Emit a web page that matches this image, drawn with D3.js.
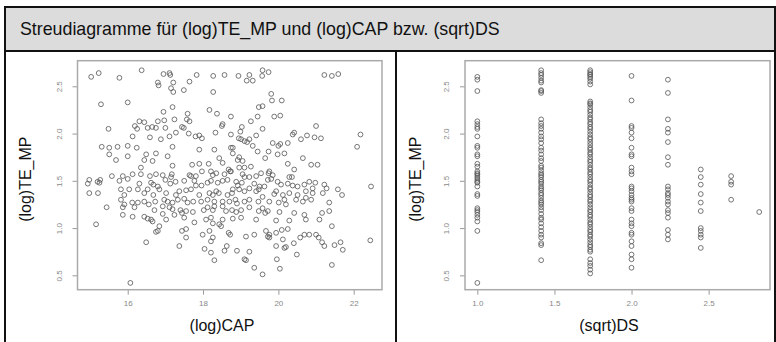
<!DOCTYPE html>
<html>
<head>
<meta charset="utf-8">
<script src="https://cdn.jsdelivr.net/npm/d3@7"></script>
<style>
  body { margin: 0; background: #fff; }
  text { font-family: "Liberation Sans", Arial, sans-serif; }
</style>
</head>
<body>
<div id="chart"></div>
<script>
// (log)CAP vs (log)TE_MP
var capPoints = [
  [15.03,2.60],[15.23,2.64],[15.78,2.59],[16.37,2.67],[16.95,2.63],[17.11,2.64],[17.13,2.62],[16.80,2.54],
  [16.82,2.51],[17.21,2.54],[17.15,2.48],[17.21,2.44],[17.49,2.46],[17.64,2.55],[17.83,2.62],[18.27,2.61],
  [18.27,2.44],[18.57,2.62],[18.94,2.61],[19.16,2.56],[19.23,2.62],[19.32,2.56],[19.57,2.61],[19.58,2.67],
  [19.74,2.65],[21.22,2.62],[21.42,2.61],[21.59,2.63],[19.81,2.42],
  [15.29,2.31],[16.00,2.33],[19.83,2.35],[20.09,2.35],[19.58,2.29],[19.48,2.28],[17.19,2.28],[16.95,2.23],
  [18.17,2.25],[17.59,2.21],[18.37,2.21],[18.74,2.18],[19.89,2.18],[20.05,2.19],[19.45,2.18],[19.27,2.13],
  [17.57,2.15],[17.64,2.13],[17.24,2.15],[16.97,2.14],[16.31,2.13],[16.44,2.12],[16.80,2.13],[16.65,2.07],
  [16.19,2.08],[16.25,2.05],[15.49,2.05],[16.53,2.06],[16.75,2.06],[17.00,2.06],[17.44,2.07],[17.49,2.06],
  [18.50,2.08],[18.52,2.10],[19.03,2.07],[19.58,2.05],[21.00,2.08],[20.42,2.01],[20.38,1.99],
  [16.13,1.97],[16.59,1.96],[16.88,1.94],[17.11,1.97],[17.28,2.01],[17.62,2.00],[17.80,1.97],[17.90,1.98],
  [17.97,1.95],[18.33,2.01],[18.74,1.99],[18.99,2.02],[19.01,1.94],[19.10,1.92],[19.17,1.91],[19.23,1.94],
  [19.41,1.98],[18.95,1.95],[19.85,1.90],[20.00,1.87],[20.05,1.89],[20.25,1.90],[20.76,1.98],[20.96,1.96],
  [21.13,1.95],[20.60,1.94],[22.18,1.99],[22.09,1.86],[15.31,1.86],[15.51,1.85],[15.73,1.86],[16.00,1.87],
  [16.24,1.85],[17.19,1.86],[17.90,1.83],[18.30,1.83],[18.74,1.85],[18.79,1.85],[19.32,1.87],[19.45,1.81],
  [19.74,1.81],[18.79,1.79],
  [15.51,1.78],[16.00,1.76],[15.69,1.72],[16.49,1.78],[16.75,1.79],[17.06,1.76],[16.44,1.72],[16.66,1.71],
  [16.35,1.64],[17.19,1.66],[17.71,1.67],[17.90,1.68],[18.15,1.68],[18.43,1.74],[18.52,1.69],[18.96,1.75],
  [18.92,1.72],[19.05,1.71],[18.96,1.64],[18.68,1.62],[18.72,1.60],[19.10,1.64],[19.27,1.65],[19.65,1.74],
  [19.98,1.78],[20.16,1.79],[19.76,1.60],[19.74,1.58],[19.85,1.56],[20.25,1.68],[20.42,1.62],[20.65,1.74],
  [20.87,1.67],[21.04,1.67],[16.35,1.57],[16.59,1.55],[16.93,1.56],[17.17,1.57],[17.15,1.54],[16.75,1.57],
  [16.13,1.57],[15.87,1.55],[15.58,1.55],[15.20,1.49],[14.98,1.51],[17.97,1.60],[17.81,1.55],[17.64,1.56],
  [18.21,1.60],[18.26,1.56],[18.35,1.58],[18.57,1.57],[18.74,1.60],[19.05,1.57],[19.23,1.54],[19.41,1.55],
  [19.54,1.58],[19.81,1.52],[20.29,1.54],[20.36,1.54],
  [14.94,1.47],[15.25,1.48],[15.27,1.51],[15.78,1.50],[16.00,1.52],[16.27,1.41],[16.31,1.47],[16.62,1.48],
  [16.68,1.46],[16.80,1.44],[17.00,1.51],[17.13,1.47],[17.27,1.49],[17.50,1.50],[17.68,1.55],[17.77,1.50],
  [17.96,1.45],[17.81,1.45],[18.12,1.48],[18.21,1.50],[18.39,1.48],[18.52,1.50],[18.65,1.51],[18.88,1.49],
  [19.10,1.54],[19.03,1.48],[18.92,1.45],[18.79,1.41],[18.96,1.41],[19.23,1.42],[19.36,1.47],[19.50,1.44],
  [19.72,1.51],[19.63,1.44],[19.98,1.49],[20.07,1.46],[20.25,1.47],[20.38,1.45],[20.51,1.44],[20.69,1.46],
  [20.82,1.49],[20.91,1.42],[20.98,1.48],[21.22,1.46],[21.28,1.42],[21.58,1.41],[21.69,1.35],[22.46,1.44],
  [15.21,1.37],[14.98,1.37],[15.82,1.41],[15.91,1.35],[16.04,1.41],[16.53,1.41],[16.44,1.37],[16.68,1.35],
  [16.84,1.41],[17.02,1.37],[17.28,1.35],[17.37,1.39],[17.55,1.40],[17.68,1.41],[17.90,1.35],[18.17,1.37],
  [18.26,1.35],[18.35,1.39],[18.42,1.37],[18.65,1.35],[18.77,1.37],[19.10,1.39],[19.41,1.39],[19.48,1.41],
  [19.89,1.36],[19.94,1.39],[20.12,1.35],[20.29,1.37],[20.51,1.35],[20.73,1.39],[20.91,1.37],[21.18,1.37],
  [15.82,1.30],[15.91,1.25],[16.12,1.27],[16.27,1.27],[16.44,1.28],[16.73,1.28],[16.97,1.30],[17.06,1.28],
  [17.19,1.27],[17.33,1.30],[17.50,1.31],[17.59,1.27],[17.74,1.28],[17.95,1.28],[18.12,1.30],[18.30,1.28],
  [18.52,1.28],[18.70,1.28],[18.86,1.30],[18.90,1.26],[19.10,1.28],[19.23,1.30],[19.47,1.28],[19.58,1.33],
  [19.76,1.28],[20.01,1.27],[20.16,1.30],[20.20,1.25],[20.47,1.30],[20.65,1.28],[20.73,1.32],[20.87,1.30],
  [21.35,1.27],[15.44,1.22],
  [15.87,1.22],[16.18,1.22],[16.56,1.25],[16.71,1.19],[16.93,1.23],[17.11,1.22],[17.19,1.20],[17.40,1.19],
  [17.44,1.16],[17.55,1.18],[17.73,1.17],[18.02,1.19],[18.12,1.22],[18.26,1.19],[18.30,1.23],[18.52,1.23],
  [18.61,1.18],[18.77,1.19],[18.88,1.17],[19.01,1.19],[19.23,1.22],[19.48,1.18],[19.58,1.21],[19.65,1.16],
  [19.72,1.18],[20.03,1.17],[20.42,1.16],[20.69,1.14],[21.16,1.16],[21.35,1.18],[15.87,1.14],[16.13,1.12],
  [16.44,1.12],[16.53,1.10],[16.62,1.09],[16.66,1.07],[16.93,1.15],[17.02,1.09],[17.24,1.14],[17.50,1.11],
  [17.77,1.06],[18.08,1.09],[18.21,1.11],[18.26,1.05],[18.43,1.04],[18.52,1.09],[18.79,1.10],[19.01,1.11],
  [19.41,1.09],[19.94,1.08],[20.29,1.08],[20.73,1.09],[21.09,1.09],[15.16,1.04],[16.84,1.02],[16.80,0.97],
  [16.75,0.96],[17.44,0.97],[17.55,0.99],[18.17,0.97],[18.48,1.02],[18.68,0.95],[18.72,0.93],[19.14,0.91],
  [19.36,0.93],[19.67,0.97],[19.76,0.93],[19.94,0.95],[20.09,0.98],[20.25,0.99],[20.69,0.93],[21.00,0.93],
  [21.42,1.02],
  [16.49,0.85],[17.37,0.81],[17.55,0.90],[17.99,0.93],[18.21,0.86],[18.26,0.90],[19.72,0.91],[19.76,0.90],
  [20.12,0.88],[20.20,0.80],[20.41,0.84],[20.58,0.90],[20.82,0.93],[21.07,0.90],[21.16,0.85],[21.22,0.81],
  [21.49,0.82],[21.65,0.85],[21.71,0.77],[22.44,0.87],[18.04,0.78],[18.21,0.74],[18.57,0.76],[18.63,0.81],
  [18.90,0.76],[19.23,0.75],[19.94,0.81],[20.16,0.79],[20.49,0.72],[18.30,0.66],[19.10,0.67],[19.14,0.66],
  [19.36,0.58],[19.96,0.67],[20.04,0.57],[19.58,0.51],[21.42,0.61],[16.07,0.42]
];

// (sqrt)DS levels and the (log)TE_MP values seen in each column
var dsLevels = [1.000, 1.414, 1.732, 2.000, 2.236, 2.449, 2.646, 2.828];
var teByDs = [
  [2.60,2.57,2.45,2.13,2.10,2.07,2.05,1.97,1.87,1.85,1.78,1.76,1.68,1.65,1.60,1.58,1.57,1.55,1.53,1.51,
   1.49,1.48,1.44,1.36,1.34,1.21,1.19,1.17,1.14,1.11,1.07,0.97,0.42],
  [2.67,2.64,2.62,2.59,2.56,2.54,2.46,2.45,2.43,2.15,2.11,2.08,2.05,2.01,1.97,1.94,1.90,1.85,1.82,1.78,
   1.74,1.71,1.66,1.64,1.61,1.58,1.56,1.54,1.51,1.49,1.47,1.44,1.42,1.40,1.37,1.35,1.32,1.29,1.27,1.25,
   1.22,1.19,1.15,1.11,1.09,1.05,1.01,0.97,0.93,0.90,0.84,0.82,0.66],
  [2.67,2.65,2.63,2.62,2.60,2.58,2.55,2.52,2.34,2.32,2.31,2.28,2.25,2.23,2.20,2.17,2.15,2.12,2.10,2.07,
   2.05,2.02,1.99,1.96,1.94,1.91,1.88,1.85,1.83,1.80,1.78,1.75,1.72,1.70,1.67,1.64,1.62,1.59,1.57,1.54,
   1.51,1.49,1.46,1.43,1.41,1.38,1.35,1.33,1.30,1.28,1.25,1.22,1.19,1.17,1.14,1.12,1.09,1.06,1.04,1.01,
   0.98,0.96,0.93,0.91,0.88,0.85,0.82,0.80,0.77,0.75,0.67,0.63,0.60,0.56,0.52],
  [2.61,2.35,2.08,2.06,2.01,1.95,1.85,1.78,1.76,1.64,1.60,1.57,1.44,1.42,1.39,1.35,1.32,1.30,1.28,1.21,
   1.18,1.09,1.05,1.02,0.95,0.93,0.86,0.81,0.72,0.67,0.58],
  [2.57,2.43,2.15,2.05,2.01,1.91,1.75,1.67,1.44,1.41,1.37,1.35,1.32,1.28,1.25,1.19,1.16,1.11,0.98,0.93,0.88],
  [1.62,1.54,1.46,1.36,1.27,1.18,1.00,0.97,0.93,0.90,0.79],
  [1.55,1.49,1.46,1.30],
  [1.17]
];

var yTicks = [0.5, 1.0, 1.5, 2.0, 2.5];
var capTicks = [16, 18, 20, 22];
var dsTicks = [1.0, 1.5, 2.0, 2.5];

var width = 776, height = 342;
var svg = d3.select("#chart").append("svg")
    .attr("width", width)
    .attr("height", height);

svg.append("rect").attr("width", width).attr("height", height).attr("fill", "#fff");

// frame and title bar
svg.append("rect")
    .attr("x", 5).attr("y", 7)
    .attr("width", 770).attr("height", 44)
    .attr("fill", "#dcdcdc");
var frame = svg.append("g").attr("stroke", "#111").attr("stroke-width", 2);
frame.append("line").attr("x1", 4).attr("x2", 776).attr("y1", 7).attr("y2", 7);
frame.append("line").attr("x1", 5).attr("x2", 5).attr("y1", 6).attr("y2", height);
frame.append("line").attr("x1", 775).attr("x2", 775).attr("y1", 6).attr("y2", height);
frame.append("line").attr("x1", 4).attr("x2", 776).attr("y1", 51).attr("y2", 51);
frame.append("line").attr("x1", 396).attr("x2", 396).attr("y1", 51).attr("y2", height);

svg.append("text")
    .attr("x", 20).attr("y", 35)
    .attr("font-size", "17.8px")
    .attr("fill", "#111")
    .text("Streudiagramme für (log)TE_MP und (log)CAP bzw. (sqrt)DS");

var plotTop = 60.7, plotBottom = 289.7;

function drawPanel(left, right, xDomain, xTicks, xFormat, points, xTitle, xTitleX, yTitleX) {
    var x = d3.scaleLinear().domain(xDomain).range([left, right]);
    var y = d3.scaleLinear().domain([0.348, 2.771]).range([plotBottom, plotTop]);

    var g = svg.append("g");

    g.append("g")
        .attr("transform", "translate(0," + plotBottom + ")")
        .call(d3.axisBottom(x).tickValues(xTicks).tickSize(5).tickPadding(6).tickFormat(xFormat))
        .call(function(a) {
            a.select(".domain").remove();
            a.selectAll("line").attr("stroke", "#999");
            a.selectAll("text").attr("fill", "#888").attr("font-size", "8px");
        });

    g.append("g")
        .attr("transform", "translate(" + left + ",0)")
        .call(d3.axisLeft(y).tickValues(yTicks).tickSize(5).tickFormat(d3.format(".1f")))
        .call(function(a) {
            a.select(".domain").remove();
            a.selectAll("line").attr("stroke", "#999");
            a.selectAll("text")
                .attr("fill", "#888").attr("font-size", "8px")
                .attr("x", null).attr("dy", null)
                .attr("text-anchor", "middle")
                .attr("transform", "translate(-16,0) rotate(-90)");
        });

    g.append("rect")
        .attr("x", left).attr("y", plotTop)
        .attr("width", right - left).attr("height", plotBottom - plotTop)
        .attr("fill", "none")
        .attr("stroke", "#aaa")
        .attr("stroke-width", 1.5);

    g.append("g").selectAll("circle")
        .data(points)
        .enter().append("circle")
        .attr("cx", function(d) { return x(d[0]); })
        .attr("cy", function(d) { return y(d[1]); })
        .attr("r", 2.4)
        .attr("fill", "none")
        .attr("stroke", "#555")
        .attr("stroke-opacity", 0.8)
        .attr("stroke-width", 1);

    g.append("text")
        .attr("x", xTitleX).attr("y", 331)
        .attr("text-anchor", "middle")
        .attr("font-size", "16px")
        .attr("fill", "#111")
        .text(xTitle);

    g.append("text")
        .attr("transform", "translate(" + yTitleX + "," + ((plotTop + plotBottom) / 2 + 4) + ") rotate(-90)")
        .attr("text-anchor", "middle")
        .attr("font-size", "16px")
        .attr("fill", "#111")
        .text("(log)TE_MP");
}

var dsPoints = [];
dsLevels.forEach(function(lv, i) {
    teByDs[i].forEach(function(v) { dsPoints.push([lv, v]); });
});

drawPanel(77.5, 382, [14.667, 22.751], capTicks, d3.format("d"), capPoints, "(log)CAP", 222, 31);
drawPanel(465, 770, [0.920, 2.898], dsTicks, d3.format(".1f"), dsPoints, "(sqrt)DS", 609, 421);
</script>
</body>
</html>
